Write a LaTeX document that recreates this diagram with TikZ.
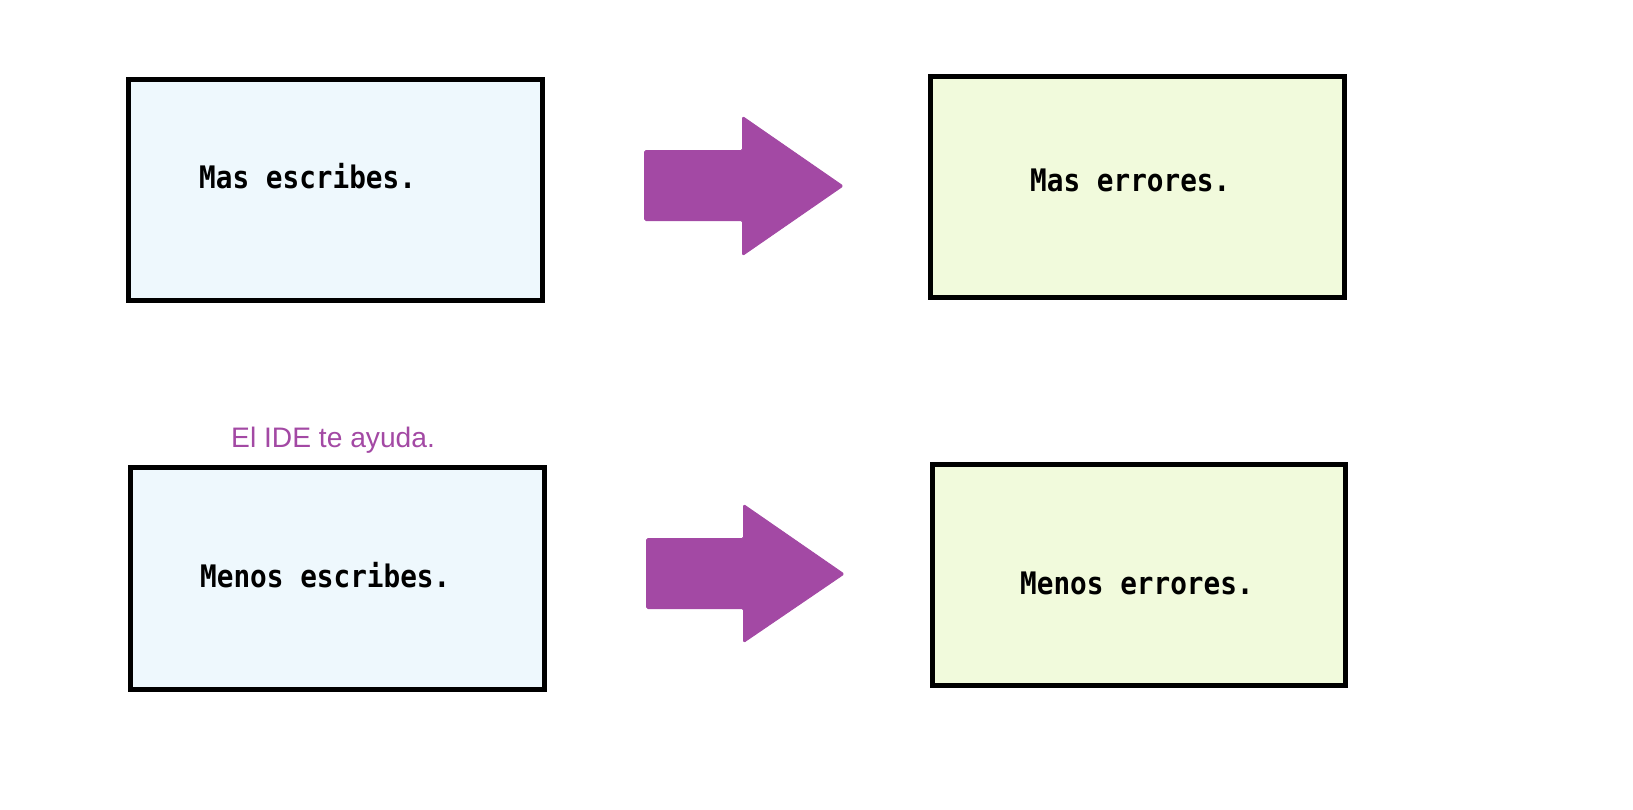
\documentclass[tikz,border=0pt]{standalone}
\usepackage{fontspec}
\newfontfamily\monof{DejaVu Sans Mono}
\newfontfamily\sansf{Liberation Sans}
\definecolor{boxblue}{HTML}{EEF8FD}
\definecolor{boxgreen}{HTML}{F1FADC}
\definecolor{arrowpurple}{HTML}{A349A4}
\newcommand{\boxlabel}[1]{\scalebox{1}[1.12]{\monof\bfseries #1}}
\tikzset{
  box/.style={draw=black, line width=5pt},
  bluebox/.style={box, fill=boxblue},
  greenbox/.style={box, fill=boxgreen},
  boxtext/.style={font=\fontsize{27.7}{30}\selectfont, anchor=base west, inner sep=0pt, text=black},
  note/.style={font=\sansf\fontsize{28.2}{32}\selectfont, anchor=base west, inner sep=0pt, text=arrowpurple},
  blockarrow/.style={fill=arrowpurple, draw=arrowpurple, line width=1pt, rounded corners=1.5pt, line join=round}
}
\begin{document}
\begin{tikzpicture}[x=1pt, y=-1pt]
\useasboundingbox (0,0) rectangle (1633,809);
% boxes
\draw[bluebox] (128.5,79) rectangle (542.5,300.5);
\node[boxtext] (t1) at (199,188) {\boxlabel{Mas escribes.}};
\draw[greenbox] (930.5,76.5) rectangle (1344.5,297.5);
\node[boxtext] (t2) at (1030,191) {\boxlabel{Mas errores.}};
\draw[bluebox] (130.5,467.5) rectangle (544.5,689.5);
\node[boxtext] (t3) at (200,587) {\boxlabel{Menos escribes.}};
\draw[greenbox] (932.5,464.5) rectangle (1345.5,685.5);
\node[boxtext] (t4) at (1020,594) {\boxlabel{Menos errores.}};
% note
\node[note] (n1) at (231,447) {El IDE te ayuda.};
% block arrows
\fill[blockarrow] (644.5,150.5) -- (742.5,150.5) -- (742.5,116.5) -- (843,186) -- (742.5,255.5) -- (742.5,220.5) -- (644.5,220.5) -- cycle;
\fill[blockarrow] (646.5,538.5) -- (743.5,538.5) -- (743.5,504.5) -- (844,574) -- (743.5,642.5) -- (743.5,608.5) -- (646.5,608.5) -- cycle;
\end{tikzpicture}
\end{document}
